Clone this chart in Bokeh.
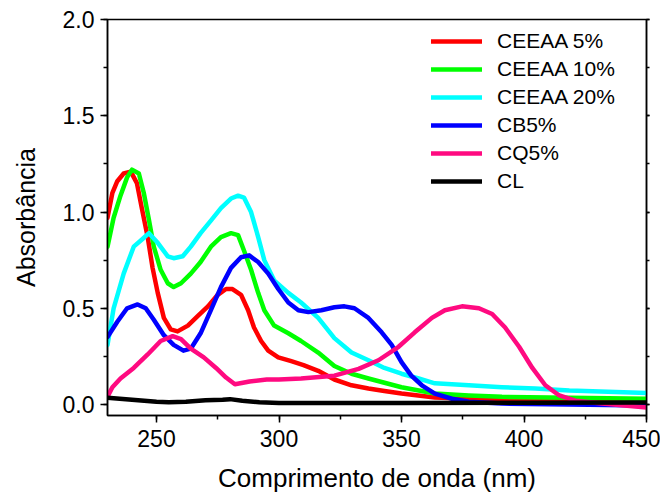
from bokeh.plotting import figure
from bokeh.models import (LinearAxis, SingleIntervalTicker, PrintfTickFormatter,
                          CustomJSTickFormatter, Legend, LegendItem, Range1d)
from bokeh.embed import file_html
from bokeh.resources import INLINE

FONT = "Liberation Sans"

# ---- data ----
series_names = ["CEEAA 5%", "CEEAA 10%", "CEEAA 20%", "CB5%", "CQ5%", "CL"]
series_colors = ["#FF0000", "#00FF00", "#00FFFF", "#0000FF", "#FF0A80", "#000000"]

ceeaa5_x = [230, 232, 234, 236.6, 239.5, 242, 244, 246.4, 248.4, 250.5, 253, 255.8, 258.6, 262.8,
            266.9, 271, 275, 278.4, 281, 284.5, 287.4, 289.8, 292.7, 295.6, 299.7, 305, 310, 316,
            322.6, 329.6, 336.5, 343, 350, 363.6, 377.5, 391, 410, 430, 450]
ceeaa5_y = [0.97, 1.10, 1.16, 1.20, 1.21, 1.15, 1.02, 0.87, 0.71, 0.58, 0.45, 0.39, 0.38, 0.41,
            0.46, 0.51, 0.57, 0.60, 0.60, 0.57, 0.49, 0.40, 0.33, 0.28, 0.245, 0.225, 0.205, 0.175,
            0.13, 0.10, 0.083, 0.07, 0.057, 0.037, 0.03, 0.025, 0.022, 0.02, 0.02]

ceeaa10_x = [230, 232.5, 235.3, 238, 240, 242.8, 244.8, 246.9, 248.9, 251.7, 254.6, 257, 260, 264,
             268, 272.2, 276.3, 280.4, 283.3, 285.7, 288.6, 291.5, 294, 298, 303.8, 309, 316, 322.6,
             329.6, 336.5, 350, 363.6, 377.5, 391, 418.5, 450]
ceeaa10_y = [0.82, 0.97, 1.085, 1.18, 1.22, 1.20, 1.10, 0.96, 0.82, 0.70, 0.63, 0.61, 0.63, 0.68,
             0.74, 0.82, 0.87, 0.89, 0.88, 0.80, 0.70, 0.58, 0.49, 0.41, 0.37, 0.33, 0.27, 0.20,
             0.16, 0.135, 0.09, 0.057, 0.047, 0.04, 0.035, 0.03]

ceeaa20_x = [230, 232.5, 236.6, 240.7, 244.3, 246.9, 250.5, 254.6, 257, 260.7, 264, 268, 272.2, 276.3,
             280.4, 283.3, 285.7, 288.6, 291.5, 294, 298, 303.8, 309, 316, 322.6, 329.6, 336.5, 343,
             350, 357, 363.6, 377.5, 391, 404.6, 418.5, 450]
ceeaa20_y = [0.31, 0.50, 0.68, 0.82, 0.86, 0.89, 0.84, 0.77, 0.76, 0.77, 0.82, 0.89, 0.955, 1.02,
             1.07, 1.085, 1.075, 1.0, 0.87, 0.75, 0.645, 0.58, 0.53, 0.45, 0.345, 0.27, 0.23, 0.19,
             0.16, 0.135, 0.11, 0.10, 0.09, 0.083, 0.073, 0.06]

cb5_x = [230, 234, 238, 242.3, 245.6, 248.9, 253, 257, 261, 264, 268, 272.2, 276.3, 280.4, 284.5,
         287.8, 291.5, 295.6, 299.7, 303.8, 307.9, 312, 317.3, 322.6, 326.7, 330.8, 336.5, 341.9,
         346, 350, 354, 358.3, 363.6, 370.6, 377.5, 391, 418.5, 450]
cb5_y = [0.35, 0.43, 0.50, 0.52, 0.50, 0.44, 0.36, 0.31, 0.28, 0.29, 0.37, 0.49, 0.61, 0.71, 0.765,
         0.775, 0.74, 0.68, 0.60, 0.53, 0.49, 0.48, 0.49, 0.505, 0.51, 0.50, 0.45, 0.375,
         0.31, 0.22, 0.15, 0.10, 0.057, 0.03, 0.015, 0.005, 0.0, -0.005]

cq5_x = [230, 232, 235.3, 240.7, 246.4, 251.7, 256.6, 260, 264, 269.3, 274.3, 278.4, 282, 288, 295,
         300, 309, 322.6, 332.5, 340.6, 348.8, 355.4, 362.4, 367.7, 374.7, 381.6, 387, 392.3, 398,
         403.4, 408.7, 414.4, 421, 432, 450]
cq5_y = [0.04, 0.09, 0.135, 0.19, 0.26, 0.33, 0.355, 0.34, 0.29, 0.245, 0.19, 0.14, 0.105, 0.12, 0.13,
         0.13, 0.135, 0.15, 0.185, 0.23, 0.30, 0.375, 0.45, 0.49, 0.51, 0.50, 0.47, 0.40, 0.30,
         0.19, 0.10, 0.047, 0.02, 0.005, -0.015]

cl_x = [230, 235, 240, 245, 250, 255, 262, 270, 277, 280, 285, 292, 300, 320, 350, 400, 450]
cl_y = [0.035, 0.03, 0.025, 0.02, 0.015, 0.012, 0.015, 0.022, 0.025, 0.028, 0.02, 0.012, 0.008,
        0.008, 0.008, 0.009, 0.01]

series_x = [ceeaa5_x, ceeaa10_x, ceeaa20_x, cb5_x, cq5_x, cl_x]
series_y = [ceeaa5_y, ceeaa10_y, ceeaa20_y, cb5_y, cq5_y, cl_y]

x_label = "Comprimento de onda (nm)"
y_label = "Absorbância"

# ---- figure ----
p = figure(width=660, height=498, output_backend="svg", toolbar_location=None,
           x_range=Range1d(230, 450), y_range=Range1d(-0.057, 2.0),
           min_border_left=107, min_border_right=14, min_border_top=19, min_border_bottom=83)
p.xgrid.visible = False
p.ygrid.visible = False
p.outline_line_color = "black"
p.outline_line_width = 1.5
p.background_fill_color = "white"
p.border_fill_color = "white"

def style_axis(ax, label_size="23px"):
    ax.axis_line_width = 1.5
    ax.major_tick_line_width = 1.5
    ax.minor_tick_line_width = 1.5
    ax.major_tick_in = 0
    ax.minor_tick_in = 0
    ax.major_tick_out = 7
    ax.minor_tick_out = 4
    ax.major_label_text_font = FONT
    ax.major_label_text_font_size = label_size
    ax.major_label_text_color = "black"
    ax.axis_label_text_font = FONT
    ax.axis_label_text_font_size = "26px"
    ax.axis_label_text_font_style = "normal"
    ax.axis_label_text_color = "black"

xax = p.xaxis[0]
xax.ticker = SingleIntervalTicker(interval=50, num_minor_ticks=2)
xax.axis_label = x_label
style_axis(xax)
xax.major_label_standoff = 7
xax.axis_label_standoff = 13

yax = p.yaxis[0]
yax.ticker = SingleIntervalTicker(interval=0.5, num_minor_ticks=2)
yax.formatter = PrintfTickFormatter(format="%.1f")
yax.axis_label = y_label
style_axis(yax)
yax.axis_label_text_font_size = "25px"
yax.major_label_standoff = 6
yax.axis_label_standoff = 20

rax = LinearAxis(ticker=SingleIntervalTicker(interval=0.5, num_minor_ticks=2),
                 formatter=CustomJSTickFormatter(code="return ''"))
rax.axis_line_width = 1.5
rax.major_tick_line_width = 1.5
rax.minor_tick_line_width = 1.5
rax.major_tick_in = 0
rax.minor_tick_in = 0
rax.major_tick_out = 3
rax.minor_tick_out = 3
rax.major_label_text_font_size = "1px"
rax.major_label_standoff = 0
p.add_layout(rax, "right")

items = []
for name, color, xs, ys in zip(series_names, series_colors, series_x, series_y):
    r = p.line(xs, ys, line_color=color, line_width=4.5, line_join="round", line_cap="round")
    items.append(LegendItem(label=name, renderers=[r]))

legend = Legend(items=items, location=(324, 220), padding=0, margin=0,
                glyph_width=51, glyph_height=28, label_height=28, spacing=0,
                label_standoff=15, label_text_font=FONT, label_text_font_size="21px",
                label_text_color="black", background_fill_alpha=0, border_line_color=None)
p.add_layout(legend, "center")

open("out.html", "w").write(file_html(p, INLINE))
